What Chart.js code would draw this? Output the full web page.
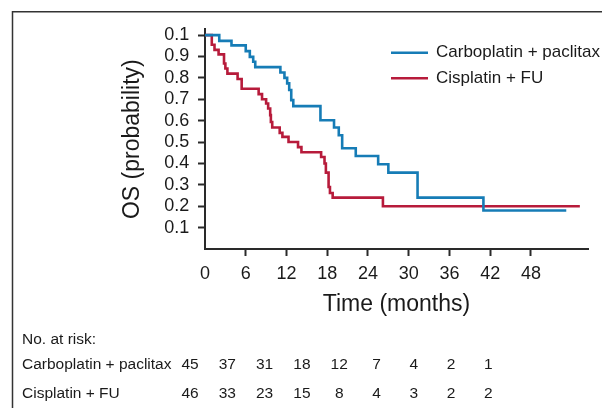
<!DOCTYPE html>
<html><head><meta charset="utf-8">
<script src="https://cdn.jsdelivr.net/npm/chart.js@4"></script>
<style>html,body{margin:0;padding:0;background:#fff}canvas{display:block}</style>
</head><body>
<canvas id="c" width="602" height="408"></canvas>
<script>
// ---- data ----
const carboLabel = 'Carboplatin + paclitax';
const cisLabel = 'Cisplatin + FU';
const carboTimes = [0, 2.1, 3.9, 6.0, 6.6, 7.1, 7.4, 11.1, 11.7, 12.1, 12.4, 12.7, 13.0, 17.0, 19.0, 19.7, 20.2, 22.2, 25.5, 27.0, 31.3, 41.0, 53.2];
const carboSurv  = [1.0, 0.973, 0.952, 0.925, 0.898, 0.875, 0.85, 0.825, 0.80, 0.774, 0.743, 0.696, 0.668, 0.602, 0.568, 0.532, 0.471, 0.435, 0.396, 0.357, 0.24, 0.18, 0.18];
const cisTimes = [0, 1.0, 1.4, 2.0, 2.8, 3.0, 3.3, 4.8, 5.4, 7.9, 8.4, 9.0, 9.3, 9.6, 9.7, 9.9, 11.0, 11.4, 12.3, 13.7, 14.2, 17.1, 17.6, 17.8, 18.2, 18.4, 18.8, 26.2, 55.2];
const cisSurv  = [1.0, 0.955, 0.931, 0.91, 0.867, 0.844, 0.82, 0.795, 0.749, 0.724, 0.70, 0.68, 0.657, 0.626, 0.594, 0.568, 0.543, 0.524, 0.50, 0.476, 0.452, 0.43, 0.40, 0.357, 0.29, 0.262, 0.24, 0.20, 0.20];
const xTickValues = [0, 6, 12, 18, 24, 30, 36, 42, 48];
const yTickValues = [0.1, 0.2, 0.3, 0.4, 0.5, 0.6, 0.7, 0.8, 0.9, 1.0];
const yTickLabels = ['0.1', '0.2', '0.3', '0.4', '0.5', '0.6', '0.7', '0.8', '0.9', '0.1'];
const xTitle = 'Time (months)';
const yTitle = 'OS (probability)';
const riskHeader = 'No. at risk:';
const riskGroups = [carboLabel, cisLabel];
const riskCarbo = [45, 37, 31, 18, 12, 7, 4, 2, 1];
const riskCis   = [46, 33, 23, 15, 8, 4, 3, 2, 2];
const riskRows = [riskCarbo, riskCis];

// ---- styles ----
const BLUE = '#167cb6';
const RED = '#b71b3b';
const INK = '#1a1a1a';
const AXIS = '#2a2a2a';
const FONT = "'Liberation Sans', Arial, Helvetica, sans-serif";

function pts(ts, ss) { return ts.map((t, i) => ({ x: t, y: ss[i] })); }

const framePlugin = {
  id: 'frame',
  beforeDraw(chart) {
    const ctx = chart.ctx;
    ctx.save();
    ctx.fillStyle = '#fff';
    ctx.fillRect(0, 0, chart.width, chart.height);
    ctx.strokeStyle = '#333';
    ctx.lineWidth = 1.5;
    ctx.beginPath();
    ctx.moveTo(12.5, chart.height);
    ctx.lineTo(12.5, 11.8);
    ctx.lineTo(chart.width, 11.8);
    ctx.stroke();
    ctx.restore();
  }
};

const legendPlugin = {
  id: 'kmLegend',
  afterDraw(chart) {
    const ctx = chart.ctx;
    ctx.save();
    ctx.font = '17px ' + FONT;
    ctx.textBaseline = 'alphabetic';
    ctx.textAlign = 'left';
    chart.data.datasets.forEach((ds, i) => {
      const y = 52.7 + i * 25.6;
      ctx.strokeStyle = ds.borderColor;
      ctx.lineWidth = 2.5;
      ctx.beginPath();
      ctx.moveTo(391, y);
      ctx.lineTo(428, y);
      ctx.stroke();
      ctx.fillStyle = INK;
      ctx.fillText(ds.label, 436, y + 4.2);
    });
    ctx.restore();
  }
};

const riskPlugin = {
  id: 'riskTable',
  afterDraw(chart) {
    const ctx = chart.ctx;
    ctx.save();
    ctx.font = '15.5px ' + FONT;
    ctx.fillStyle = INK;
    ctx.textBaseline = 'alphabetic';
    ctx.textAlign = 'left';
    ctx.fillText(riskHeader, 22, 344.3);
    const baselines = [369.3, 398.3];
    riskGroups.forEach((g, r) => {
      ctx.textAlign = 'left';
      ctx.fillText(g, 22, baselines[r]);
      ctx.textAlign = 'center';
      riskRows[r].forEach((n, i) => {
        ctx.fillText(String(n), 190 + i * 37.3, baselines[r]);
      });
    });
    ctx.restore();
  }
};

new Chart(document.getElementById('c'), {
  type: 'line',
  data: {
    datasets: [
      { label: carboLabel, data: pts(carboTimes, carboSurv), borderColor: BLUE, backgroundColor: BLUE,
        borderWidth: 2.6, stepped: true, pointRadius: 0, fill: false, tension: 0 },
      { label: cisLabel, data: pts(cisTimes, cisSurv), borderColor: RED, backgroundColor: RED,
        borderWidth: 2.6, stepped: true, pointRadius: 0, fill: false, tension: 0 }
    ]
  },
  options: {
    responsive: false,
    devicePixelRatio: 1,
    animation: false,
    layout: { padding: { left: 118.7, top: 29.3, right: 14, bottom: 90 } },
    plugins: { legend: { display: false }, tooltip: { enabled: false }, title: { display: false } },
    scales: {
      x: {
        type: 'linear', min: 0, max: 56.4,
        afterBuildTicks: (s) => { s.ticks = xTickValues.map(v => ({ value: v })); },
        afterFit: (s) => { s.height = 69; },
        ticks: { font: { size: 18, family: FONT }, color: INK, padding: 7.4, maxRotation: 0, autoSkip: false,
                 callback: (v) => String(v) },
        grid: { display: true, drawOnChartArea: false, drawTicks: true, tickLength: 7, tickWidth: 2,
                tickColor: (c) => (c.tick && c.tick.value === 0) ? 'rgba(0,0,0,0)' : AXIS },
        border: { display: true, color: AXIS, width: 2 },
        title: { display: true, text: xTitle, font: { size: 23, family: FONT }, color: INK, padding: 0 }
      },
      y: {
        type: 'linear', min: 0, max: 1.027,
        afterBuildTicks: (s) => { s.ticks = yTickValues.map(v => ({ value: v })); },
        afterFit: (s) => { s.width = 205 - 118.7; },
        ticks: { font: { size: 18, family: FONT }, color: INK, padding: 8.7, autoSkip: false,
                 callback: (v) => { const i = yTickValues.findIndex(t => Math.abs(t - v) < 1e-6); return i >= 0 ? yTickLabels[i] : ''; } },
        grid: { display: true, drawOnChartArea: false, drawTicks: true, tickLength: 7, tickWidth: 2, tickColor: AXIS },
        border: { display: true, color: AXIS, width: 2 },
        title: { display: true, text: yTitle, font: { size: 23, family: FONT }, color: INK, padding: 0 }
      }
    }
  },
  plugins: [framePlugin, legendPlugin, riskPlugin]
});
</script>
</body></html>
